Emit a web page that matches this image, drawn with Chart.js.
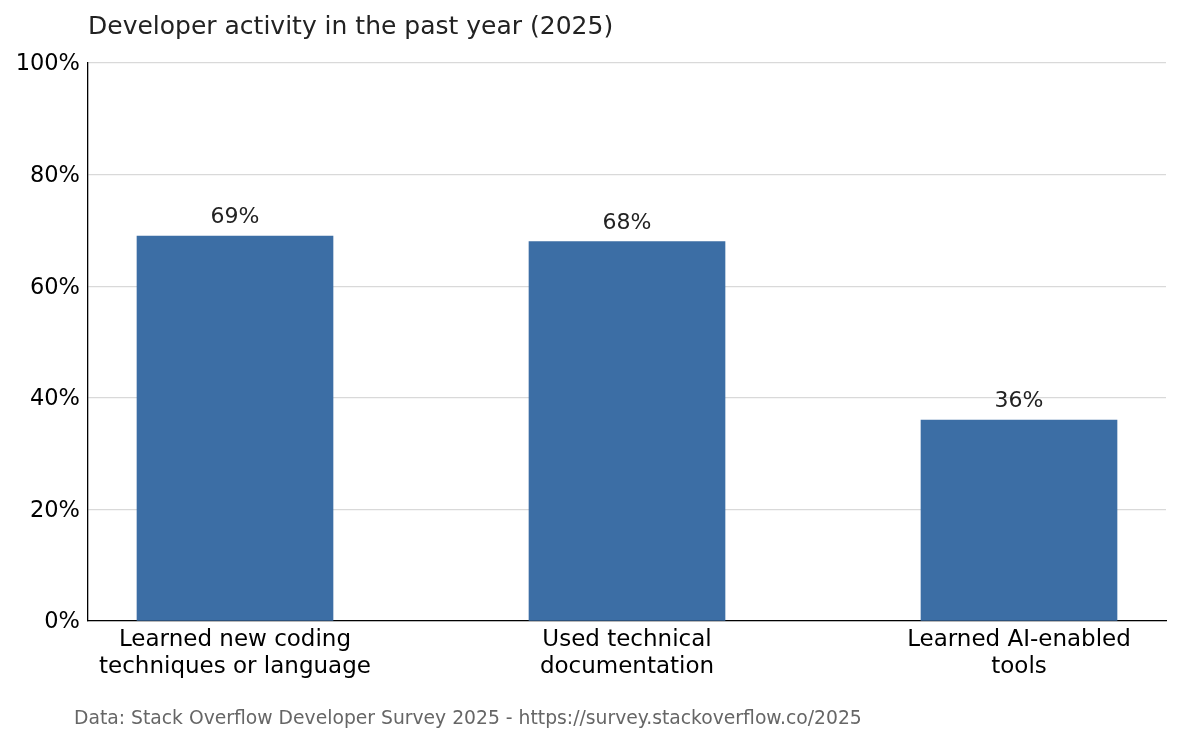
<!DOCTYPE html>
<html>
<head>
<meta charset="utf-8">
<script src="https://cdn.jsdelivr.net/npm/chart.js@4.4.1/dist/chart.umd.min.js"></script>
<style>
  html, body { margin: 0; padding: 0; background: #fff; }
  #wrap { width: 1180px; height: 744px; position: relative; }
</style>
</head>
<body>
<div id="wrap"><canvas id="chart" width="1180" height="744"></canvas></div>
<script>
// Developer activity (Stack Overflow survey 2025) — simple bar chart

const categories = [
	['Learned new coding', 'techniques or language'],
	['Used technical', 'documentation'],
	['Learned AI-enabled', 'tools']
];
const shares = [69, 68, 36];
const yTicks = [0, 20, 40, 60, 80, 100];

const titleText = 'Developer activity in the past year (2025)';
const footerText = 'Data: Stack Overflow Developer Survey 2025 - https://survey.stackoverflow.co/2025';

const FONT = "'DejaVu Sans', sans-serif";

// title, footer and value labels drawn by hand
const extras = {
	id: 'extras',
	afterDatasetsDraw(chart) {
		const ctx = chart.ctx;
		const area = chart.chartArea;
		ctx.save();
		ctx.fillStyle = '#222';
		ctx.font = '25px ' + FONT;
		ctx.textAlign = 'left';
		ctx.textBaseline = 'middle';
		ctx.fillText(titleText, area.left, 27);

		ctx.fillStyle = '#666';
		ctx.font = '18.75px ' + FONT;
		ctx.fillText(footerText, 74, 719);

		ctx.fillStyle = '#222';
		ctx.font = '22px ' + FONT;
		ctx.textAlign = 'center';
		ctx.textBaseline = 'alphabetic';
		const meta = chart.getDatasetMeta(0);
		meta.data.forEach((bar, i) => {
			ctx.fillText(shares[i] + '%', bar.x, bar.y - 13);
		});
		ctx.restore();
	}
};

const ctx = document.getElementById('chart').getContext('2d');

new Chart(ctx, {
	type: 'bar',
	data: {
		datasets: [{
			data: shares.map((v, i) => ({ x: i, y: v })),
			backgroundColor: '#3c6ea5',
			borderWidth: 0,
			barThickness: 196
		}]
	},
	options: {
		responsive: false,
		animation: false,
		layout: { padding: { top: 63, right: 14, bottom: 0, left: 0 } },
		plugins: {
			legend: { display: false },
			tooltip: { enabled: false }
		},
		scales: {
			x: {
				type: 'linear',
				min: -0.375,
				max: 2.375,
				offset: false,
				afterFit(scale) { scale.height = 123; },
				afterBuildTicks(scale) {
					scale.ticks = categories.map((c, i) => ({ value: i }));
				},
				grid: { display: false, drawTicks: false },
				border: { display: true, color: '#000', width: 1.3 },
				ticks: {
					padding: 6,
					color: '#000',
					maxRotation: 0,
					autoSkip: false,
					font: { family: FONT, size: 23, lineHeight: 1.17 },
					callback: (v) => categories[v]
				}
			},
			y: {
				min: 0,
				max: 100,
				afterFit(scale) { scale.width = 88; },
				afterBuildTicks(scale) {
					scale.ticks = yTicks.map(v => ({ value: v }));
				},
				grid: { color: '#d9d9d9', lineWidth: 1.2, drawTicks: false },
				border: { display: true, color: '#000', width: 1.3 },
				ticks: {
					padding: 8,
					labelOffset: 1.5,
					color: '#000',
					font: { family: FONT, size: 22.5 },
					callback: (v) => v + '%'
				}
			}
		}
	},
	plugins: [extras]
});
</script>
</body>
</html>
